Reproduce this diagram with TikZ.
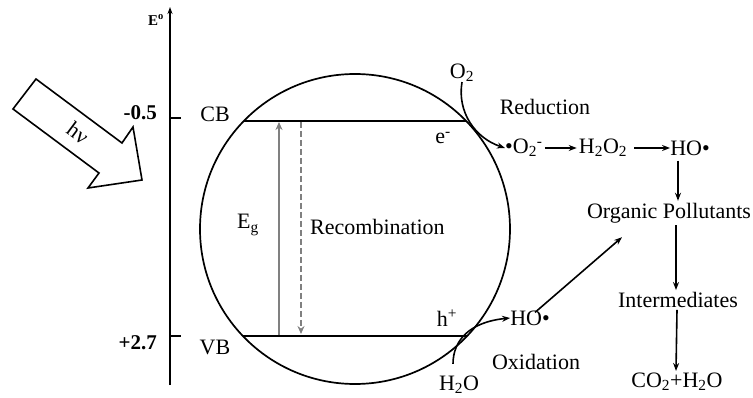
\documentclass[tikz,border=0pt]{standalone}
\usepackage{fontspec}
\setmainfont{Liberation Serif}
\usetikzlibrary{arrows.meta}
\begin{document}
\begin{tikzpicture}[x=1pt,y=-1pt,
  font=\fontsize{22}{26}\selectfont,
  lbl/.style={inner sep=0pt},
  chain/.style={inner sep=2pt},
  ticklbl/.style={inner sep=0pt,font=\fontsize{21}{25}\selectfont\bfseries},
  arr/.style={-{Stealth[length=8pt,width=6pt]}, line width=1.6pt},
  band/.style={line width=2pt},
  gapline/.style={line width=2.8pt, draw=gray}]
\useasboundingbox (0,0) rectangle (753,398);

% energy axis
\coordinate (axb) at (170,385);
\coordinate (axt) at (170,7);
\draw[line width=2pt,-{Stealth[length=7pt,width=5pt]}] (axb) -- (axt);
\node[lbl,font=\fontsize{15}{17}\selectfont\bfseries] (E) at (156,20) {E\textsuperscript{o}};
\coordinate (t1a) at (170,118); \coordinate (t1b) at (181,118);
\coordinate (t2a) at (170,336); \coordinate (t2b) at (181,336);
\draw[line width=1.5pt] (t1a) -- (t1b);
\draw[line width=1.5pt] (t2a) -- (t2b);
\node[ticklbl,anchor=east] (m05) at (157,113) {-0.5};
\node[ticklbl,anchor=east] (p27) at (157,343) {+2.7};

% light arrow
\draw[line width=1.6pt, line join=miter] (36,79) -- (122,143) -- (133,127) -- (142,180) -- (88,188) -- (99,173) -- (13,109) -- cycle;
\node[lbl,rotate=-36.6] (hv) at (78,133) {hν};

% particle
\coordinate (pc) at (355,229);
\draw[line width=1.7pt] (pc) circle[radius=155];
\coordinate (cbl) at (244,120.7); \coordinate (cbr) at (466,120.7);
\coordinate (vbl) at (243,336); \coordinate (vbr) at (467,336);
\draw[band] (cbl) -- (cbr);
\draw[band] (vbl) -- (vbr);
\node[lbl] (CB) at (215,114) {CB};
\node[lbl] (VB) at (215,347) {VB};

% band gap and recombination
\coordinate (ega) at (279,335); \coordinate (egb) at (279,122);
\coordinate (rca) at (301,122); \coordinate (rcb) at (301,334);
\draw[gapline,-{Stealth[length=8pt,width=7pt,fill=black]}] (ega) -- (egb);
\draw[gapline,dash pattern=on 6pt off 3pt,-{Stealth[length=8pt,width=7pt,open]}] (rca) -- (rcb);
\node[lbl] (Eg) at (248,225) {E\textsubscript{g}};
\node[lbl,anchor=west] (Rec) at (310,227) {Recombination};

% carriers
\node[lbl] (em) at (443,138) {e\textsuperscript{-}};
\node[lbl] (hp) at (447,318) {h\textsuperscript{+}};

% reduction side
\node[lbl] (O2) at (462,73) {O\textsubscript{2}};
\node[lbl] (Red) at (545,107) {Reduction};
\node[lbl,anchor=west] (O2m) at (505,148) {•O\textsubscript{2}\textsuperscript{-}};
\node[lbl] (H2O2) at (603,148) {H\textsubscript{2}O\textsubscript{2}};
\node[lbl] (HO1) at (690,148) {HO•};
\draw[arr] (O2.south) .. controls (457,112) and (475,138) .. (O2m.west);
\draw[arr] ([xshift=2pt]O2m.east) -- ([xshift=-2pt]H2O2.west);
\draw[arr] ([xshift=7pt]H2O2.east) -- ([xshift=0pt]HO1.west);

% degradation chain
\node[chain] (OP) at (669,213) {Organic Pollutants};
\node[chain] (Int) at (678,300) {Intermediates};
\node[chain] (CO) at (677,382) {CO\textsubscript{2}+H\textsubscript{2}O};
\draw[arr] ([xshift=-12pt,yshift=-5pt]HO1.south) -- ([xshift=-12pt]HO1.south |- OP.north);
\draw[arr] ([xshift=-2pt]Int.north |- OP.south) -- ([xshift=-2pt]Int.north);
\draw[arr] ([xshift=-1pt]Int.south) -- ([xshift=-1pt]CO.north);

% oxidation side
\node[lbl] (HO2) at (530,318) {HO•};
\node[lbl] (Ox) at (536,362) {Oxidation};
\node[lbl] (H2O) at (459,385) {H\textsubscript{2}O};
\draw[arr] ([shift={(-6,-12)}]H2O.north) .. controls (453,340) and (470,322) .. (HO2.west);
\draw[arr] ([xshift=5pt,yshift=-2pt]HO2.north) -- ([xshift=-47pt,yshift=-12pt]OP.south);
\end{tikzpicture}
\end{document}
